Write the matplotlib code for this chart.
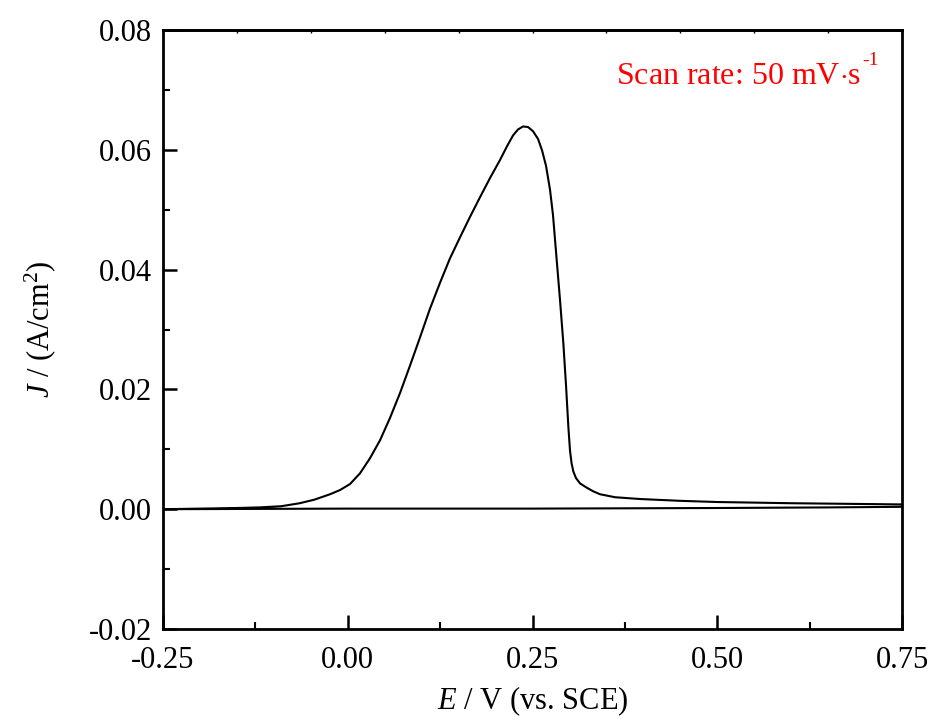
import matplotlib
matplotlib.use("Agg")
import matplotlib.pyplot as plt
import numpy as np

# Forward (oxidation peak) scan
E_fwd = [-0.25, -0.20, -0.15, -0.12, -0.09, -0.065, -0.045, -0.024, -0.0105, 0.003,
         0.0166, 0.030, 0.0436, 0.057, 0.0707, 0.084, 0.0978, 0.111, 0.1248, 0.138,
         0.1519, 0.1654, 0.179, 0.1925, 0.206, 0.2155, 0.2236, 0.2304, 0.2372, 0.2439,
         0.2507, 0.2575, 0.2629, 0.2683, 0.2737, 0.2777, 0.2827, 0.2872, 0.2917, 0.2953,
         0.2985, 0.3007, 0.3028, 0.3052, 0.3088, 0.3143, 0.3233, 0.3319, 0.3413, 0.3616,
         0.3955, 0.4496, 0.50, 0.60, 0.75]
J_fwd = [0.0000, 0.0001, 0.0002, 0.0003, 0.0005, 0.0010, 0.0016, 0.0025, 0.0032, 0.0042,
         0.0060, 0.0085, 0.0115, 0.0152, 0.0194, 0.0239, 0.0287, 0.0334, 0.0378, 0.0418,
         0.0454, 0.0488, 0.0521, 0.0553, 0.0583, 0.0606, 0.0624, 0.0634, 0.0639, 0.0638,
         0.0631, 0.0618, 0.0599, 0.0573, 0.0533, 0.0491, 0.0416, 0.0349, 0.0277, 0.0207,
         0.0137, 0.0098, 0.0077, 0.0063, 0.0052, 0.0043, 0.0036, 0.0030, 0.0025, 0.0020,
         0.0017, 0.0014, 0.0012, 0.0010, 0.0008]
# Reverse scan (baseline)
E_rev = [0.75, 0.65, 0.50, 0.25, 0.00, -0.25]
J_rev = [0.0004, 0.0003, 0.0002, 0.0001, 0.0001, 0.0000]

x_ticks = [-0.25, 0.00, 0.25, 0.50, 0.75]
x_ticklabels = ["-0.25", "0.00", "0.25", "0.50", "0.75"]
y_ticks = [-0.02, 0.00, 0.02, 0.04, 0.06, 0.08]
y_ticklabels = ["-0.02", "0.00", "0.02", "0.04", "0.06", "0.08"]

plt.rcParams['font.family'] = ['Liberation Serif', 'DejaVu Serif']
plt.rcParams['mathtext.fontset'] = 'custom'
plt.rcParams['mathtext.rm'] = 'Liberation Serif'
plt.rcParams['mathtext.it'] = 'Liberation Serif:italic'

fig = plt.figure(figsize=(9.31, 7.23), dpi=100)
ax = fig.add_axes([0.1751, 0.1300, 0.7938, 0.8285])

E = E_fwd + E_rev
J = J_fwd + J_rev
ax.plot(E, J, color='black', lw=1.5, solid_joinstyle='round')

ax.set_xlim(-0.25, 0.75)
ax.set_ylim(-0.02, 0.08)
ax.set_xticks(x_ticks)
ax.set_xticklabels(x_ticklabels)
ax.set_yticks(y_ticks)
ax.set_yticklabels(y_ticklabels)
ax.set_xticks(np.arange(-0.125, 0.75, 0.25), minor=True)
ax.set_yticks(np.arange(-0.01, 0.08, 0.02), minor=True)

ax.tick_params(axis='both', which='major', direction='in', length=10, width=1.8,
               labelsize=22, top=False, right=False)
ax.tick_params(axis='x', which='major', pad=12)
ax.tick_params(axis='y', which='major', pad=8)
ax.tick_params(axis='both', which='minor', direction='in', length=5, width=1.5,
               top=False, right=False)

for s in ax.spines.values():
    s.set_linewidth(2)

sec = ax.secondary_xaxis('top')
sec.set_xticks(np.arange(-0.15, 0.75, 0.1))
sec.tick_params(direction='in', length=2, width=1, labelsize=0, labeltop=False)
sec.spines['top'].set_linewidth(2)

ax.set_xlabel(r'$E$ / V (vs. SCE)', fontsize=22, labelpad=7)
ax.set_ylabel(r'$J$ / (A/cm$^2$)', fontsize=22, labelpad=22)

t = ax.text(0.944, 0.922, r'Scan rate: 50 mV$\cdot$s', transform=ax.transAxes,
            color='red', fontsize=23, ha='right', va='center')
ax.annotate('-1', xy=(1.0, 0.75), xycoords=t, xytext=(1, 0), textcoords='offset points',
            color='red', fontsize=14, ha='left', va='bottom')

fig.savefig('out.png', dpi=100)
